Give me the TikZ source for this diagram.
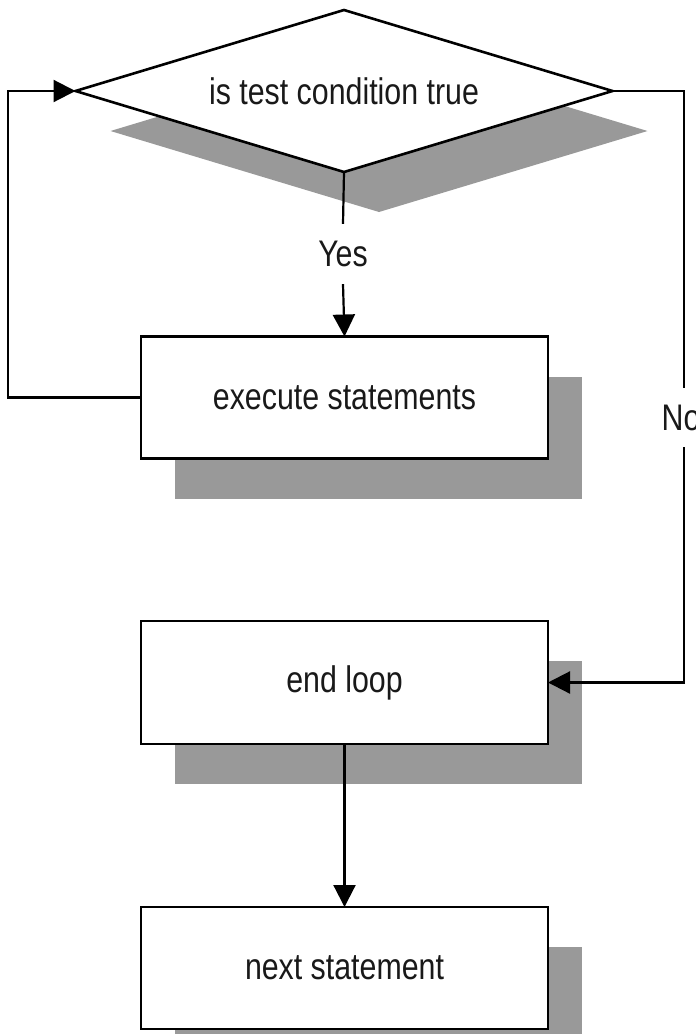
\documentclass[tikz,border=0pt]{standalone}
\usepackage{fontspec}
\setmainfont{Liberation Sans}[FakeStretch=0.82]
\usetikzlibrary{shapes.geometric,shadows,arrows.meta}
\definecolor{shadegray}{HTML}{999999}
\tikzset{
  flow/.style={font=\fontsize{37}{40}\selectfont, text=black!90},
  boxshadow/.style={general shadow={shadow xshift=34pt, shadow yshift=-40pt, fill=shadegray}},
  stepbox/.style={flow, draw=black, line width=2.6pt, fill=white, rectangle,
    minimum width=407pt, minimum height=122pt, inner sep=0pt, outer sep=0pt, boxshadow},
  testbox/.style={flow, draw=black, line width=2.6pt, fill=white, diamond,
    aspect=3.315, minimum width=537pt, minimum height=162pt, inner sep=0pt, outer sep=0pt,
    general shadow={shadow xshift=35pt, shadow yshift=-40pt, fill=shadegray}},
  lbl/.style={flow, fill=white, inner sep=0pt},
  conn/.style={line width=2.2pt, draw=black},
  arr/.style={conn, -{Triangle[length=22pt, width=22pt]}},
}
\begin{document}
\begin{tikzpicture}[x=1pt, y=-1pt]
\useasboundingbox (0,0) rectangle (696,1034);

% decision and process steps
\node[testbox] (test) at (344, 91) {is test condition true};
\node[stepbox] (exec) at (344.5, 397.5) {execute statements};
\node[stepbox, minimum height=123pt] (end) at (344.5, 682.5) {end loop};
\node[stepbox] (next) at (344.5, 968) {next statement};

% routing columns for the loop-back and exit lines
\coordinate (lx) at (8, 0);
\coordinate (rx) at (684, 0);

% Yes branch
\node[lbl, minimum height=60pt] (yes) at (343, 254) {Yes};
\draw[conn] (test.south) -- (yes.north);
\draw[arr] (yes.south) -- (exec.north);

% loop back to the test
\draw[arr] (exec.west) -- (exec.west -| lx) -- (test.west -| lx) -- (test.west);

% No branch: exit to end loop
\draw[arr] (test.east) -- (test.east -| rx) -- (end.east -| rx) -- (end.east);
\node[lbl, minimum height=59pt] (no) at (681, 417.5) {No};

% continue to next statement
\draw[arr] (end.south) -- (next.north);
\end{tikzpicture}
\end{document}
